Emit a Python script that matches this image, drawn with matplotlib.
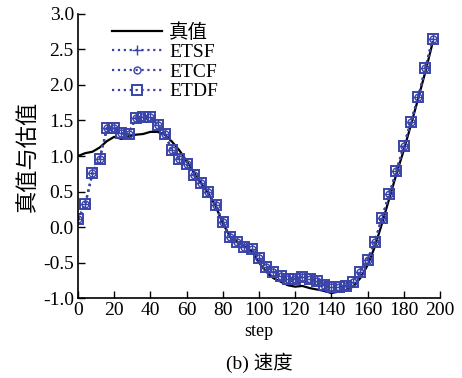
import numpy as np
import matplotlib.pyplot as plt

plt.rcParams['font.family'] = ['Liberation Serif', 'Noto Sans CJK SC']
plt.rcParams['axes.unicode_minus'] = True

# true value
true_step = [0, 4, 8, 12, 16, 20, 24, 28, 32, 36, 40, 44, 48, 52, 56, 60, 64, 68,
             72, 76, 80, 84, 88, 92, 96, 100, 104, 108, 112, 116, 120, 124, 128,
             132, 136, 140, 144, 148, 152, 156, 160, 164, 168, 172, 176, 180, 184,
             188, 192, 196]
true_val = [1.00, 1.04, 1.06, 1.12, 1.21, 1.27, 1.24, 1.28, 1.30, 1.31, 1.34, 1.34,
            1.30, 1.20, 1.08, 0.93, 0.77, 0.62, 0.47, 0.30, 0.05, -0.13, -0.21,
            -0.27, -0.34, -0.50, -0.63, -0.72, -0.77, -0.82, -0.84, -0.83, -0.86,
            -0.88, -0.90, -0.93, -0.91, -0.89, -0.84, -0.72, -0.54, -0.28, 0.05,
            0.40, 0.75, 1.08, 1.44, 1.81, 2.19, 2.60]

# estimates (the three filters overlap in the figure)
est_step = list(range(0, 200, 4))
etsf = [0.11, 0.32, 0.76, 0.96, 1.39, 1.39, 1.32, 1.31, 1.54, 1.55, 1.55, 1.44,
        1.31, 1.08, 0.96, 0.89, 0.73, 0.62, 0.49, 0.31, 0.07, -0.14, -0.21,
        -0.28, -0.31, -0.44, -0.56, -0.63, -0.69, -0.73, -0.73, -0.70, -0.73,
        -0.76, -0.82, -0.85, -0.85, -0.83, -0.77, -0.63, -0.46, -0.21, 0.13,
        0.46, 0.79, 1.14, 1.48, 1.83, 2.24, 2.65]
etcf = list(etsf)
etdf = list(etsf)

blue = '#3a44a8'

fig = plt.figure(figsize=(4.62, 3.78), dpi=100)
ax = fig.add_axes([0.1688, 0.2116, 0.7834, 0.7514])

ax.plot(true_step, true_val, color='black', lw=1.6, label='真值')
ax.plot(est_step, etsf, color=blue, ls=':', lw=1.6, marker='+', ms=7,
        mew=1.0, label='ETSF')
ax.plot(est_step, etcf, color=blue, ls=':', lw=1.6, marker='o', ms=5,
        mfc='none', mew=1.0, label='ETCF')
ax.plot(est_step, etdf, color=blue, ls=':', lw=1.6, marker='s', ms=7,
        mfc='none', mew=1.4, label='ETDF')

ax.set_xlim(0, 200)
ax.set_ylim(-1.0, 3.0)
ax.set_xticks(np.arange(0, 201, 20))
ax.set_yticks(np.arange(-1.0, 3.01, 0.5))
ax.set_yticklabels(['%.1f' % v for v in np.arange(-1.0, 3.01, 0.5)])
ax.tick_params(direction='in', labelsize=14, length=5, width=1, pad=3)
ax.spines['top'].set_visible(False)
ax.spines['right'].set_visible(False)
ax.spines['left'].set_linewidth(1.2)
ax.spines['bottom'].set_linewidth(1.2)

ax.set_xlabel('step', fontsize=13, labelpad=3)
ax.set_ylabel('真值与估值', fontsize=16, labelpad=2)

ax.legend(loc='upper left', bbox_to_anchor=(0.045, 1.03), frameon=False,
          fontsize=14, handlelength=2.6, labelspacing=0.1, handletextpad=0.35)

ax.text(0.5, -0.228, '(b) 速度', ha='center', va='center', fontsize=14,
        transform=ax.transAxes)

fig.savefig('out.png', dpi=100)
